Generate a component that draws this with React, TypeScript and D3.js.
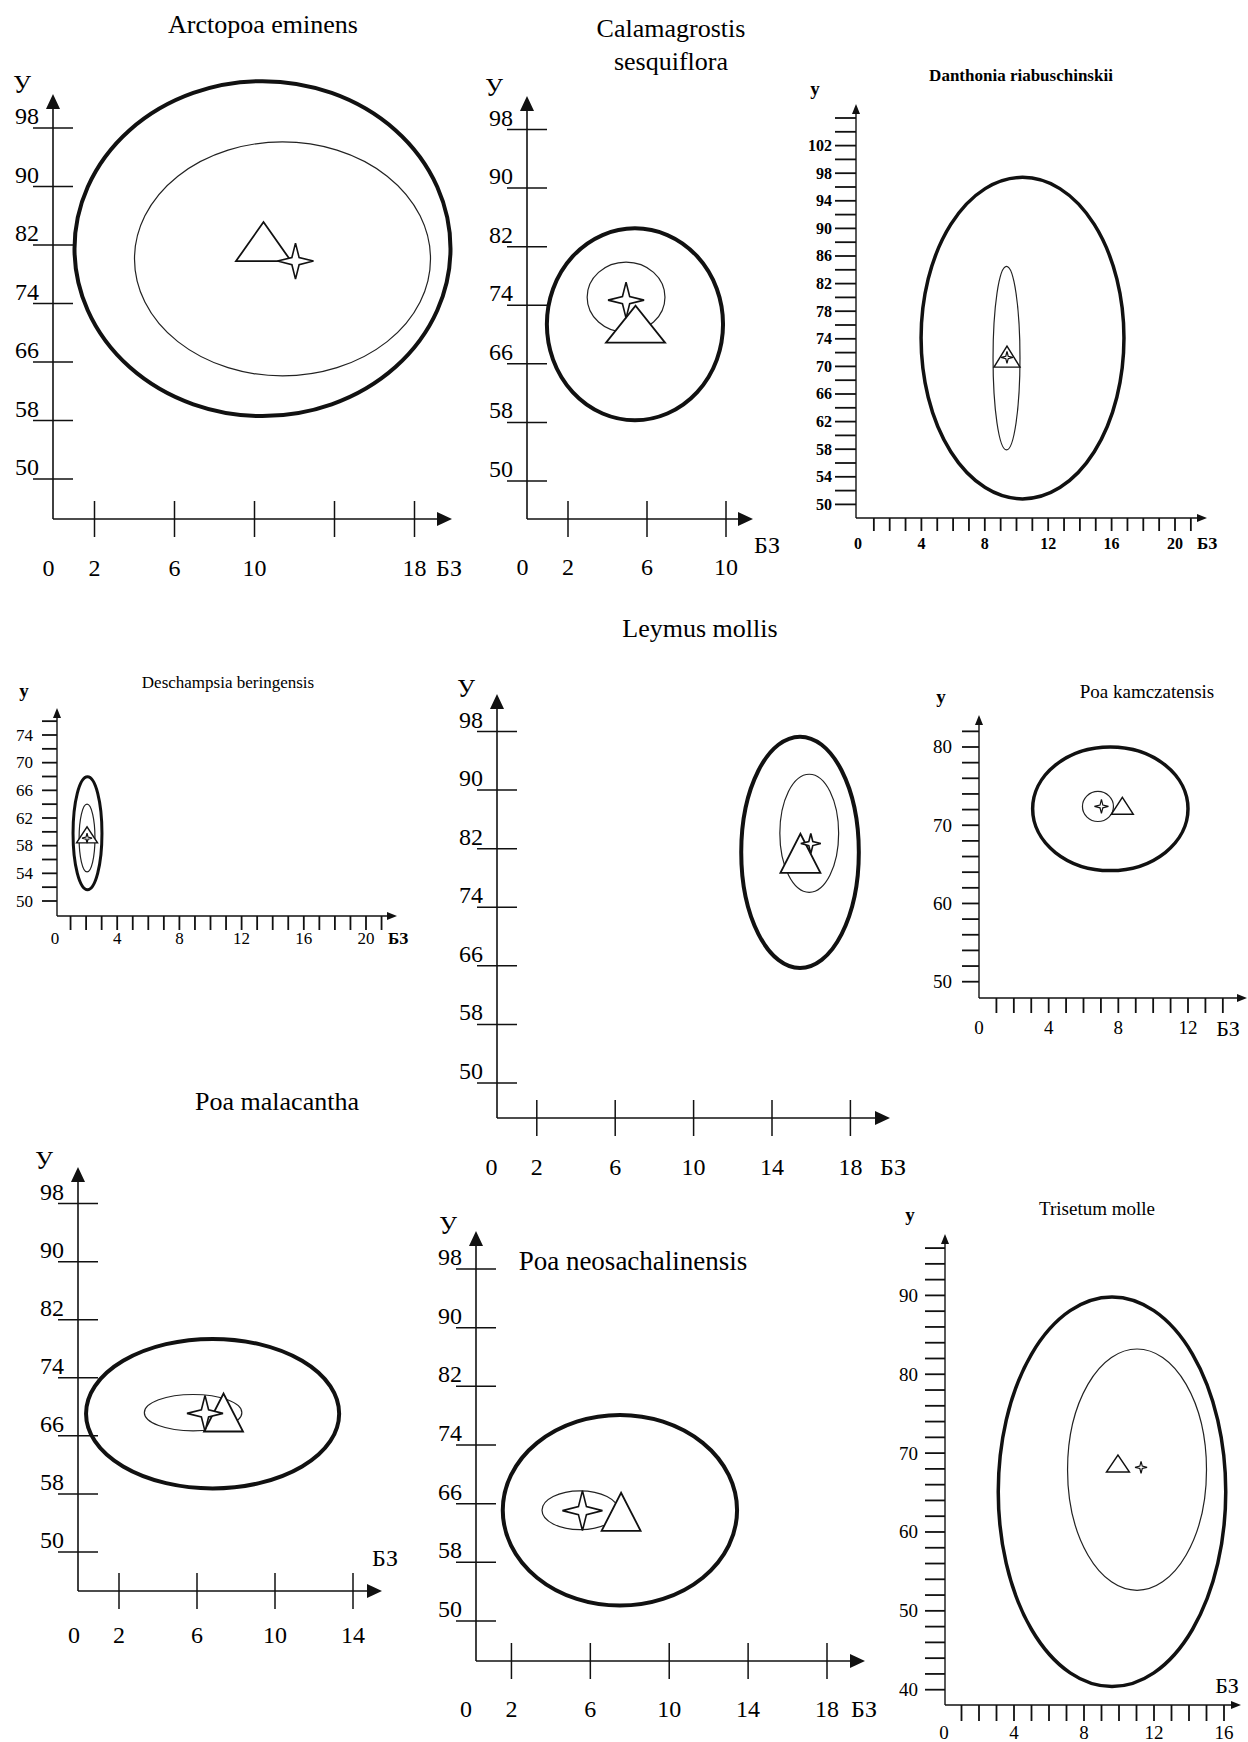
import React from "react";
import * as d3 from "d3";

// ---------- DATA ----------
const titleLines: string[][] = [
  ["Arctopoa eminens"],
  ["Calamagrostis", "sesquiflora"],
  ["Danthonia riabuschinskii"],
  ["Deschampsia beringensis"],
  ["Leymus mollis"],
  ["Poa kamczatensis"],
  ["Poa malacantha"],
  ["Poa neosachalinensis"],
  ["Trisetum molle"],
];
const yAxisNames = ["У", "У", "y", "y", "У", "y", "У", "У", "y"];
const xAxisName = "БЗ";

// [cx, cy, rx, ry] in data units
const outerEllipses: number[][] = [
  [10.4, 81.5, 9.4, 22.9],
  [5.39, 71.4, 4.46, 13.1],
  [10.38, 74.1, 6.4, 23.3],
  [2.09, 59.8, 0.93, 8.16],
  [15.43, 81.5, 3.0, 15.8],
  [7.54, 72.1, 4.46, 7.9],
  [6.8, 69.06, 6.49, 10.3],
  [7.5, 65.1, 5.94, 13.0],
  [9.6, 65.1, 6.5, 24.7],
];
const innerEllipses: number[][] = [
  [11.4, 80.1, 7.4, 16.0],
  [4.94, 75.1, 1.97, 4.8],
  [9.37, 71.2, 0.85, 13.3],
  [2.06, 59.1, 0.51, 4.9],
  [15.9, 84.1, 1.5, 8.06],
  [6.83, 72.4, 0.89, 1.92],
  [5.8, 69.2, 2.5, 2.5],
  [5.48, 65.1, 1.93, 2.64],
  [11.03, 67.9, 3.97, 15.3],
];
// triangle base-centre points
const trianglePoints: number[][] = [
  [10.45, 79.8],
  [5.42, 68.9],
  [9.4, 69.9],
  [2.06, 58.4],
  [15.45, 78.7],
  [8.23, 71.4],
  [7.36, 66.6],
  [7.56, 62.3],
  [9.94, 67.6],
];
const starPoints: number[][] = [
  [12.05, 79.8],
  [4.94, 74.7],
  [9.4, 71.3],
  [2.06, 59.1],
  [15.98, 82.7],
  [7.03, 72.4],
  [6.41, 69.1],
  [5.6, 65.05],
  [11.26, 68.2],
];

const bigY = [50, 58, 66, 74, 82, 90, 98];
const yTickMarks: number[][] = [
  bigY,
  bigY,
  d3.range(50, 107, 2),
  d3.range(50, 77, 2),
  bigY,
  d3.range(50, 83, 2),
  bigY,
  bigY,
  d3.range(40, 97, 2),
];
const yTickLabels: number[][] = [
  bigY,
  bigY,
  [50, 54, 58, 62, 66, 70, 74, 78, 82, 86, 90, 94, 98, 102],
  [50, 54, 58, 62, 66, 70, 74],
  bigY,
  [50, 60, 70, 80],
  bigY,
  bigY,
  [40, 50, 60, 70, 80, 90],
];
const xTickMarks: number[][] = [
  [2, 6, 10, 14, 18],
  [2, 6, 10],
  d3.range(1, 22),
  d3.range(1, 22),
  [2, 6, 10, 14, 18],
  d3.range(1, 15),
  [2, 6, 10, 14],
  [2, 6, 10, 14, 18],
  d3.range(1, 17),
];
const xTickLabels: number[][] = [
  [0, 2, 6, 10, 18],
  [0, 2, 6, 10],
  [0, 4, 8, 12, 16, 20],
  [0, 4, 8, 12, 16, 20],
  [0, 2, 6, 10, 14, 18],
  [0, 4, 8, 12],
  [0, 2, 6, 10, 14],
  [0, 2, 6, 10, 14, 18],
  [0, 4, 8, 12, 16],
];

// ---------- LAYOUT (pixels / styles) ----------
type L = {
  xDom: [number, number]; xPx: [number, number];
  yDom: [number, number]; yPx: [number, number];
  axisX: number; axisY: number; yTop: number; xRight: number;
  big: boolean;
  titleX: number; titleY: number[]; titleFs: number; titleBold?: boolean;
  yName: [number, number]; yNameFs: number;
  xName: [number, number]; xNameFs: number; xNameBold?: boolean;
  labelBase: number; tickFs: number; tickBold?: boolean;
  yTickLen?: number; xTickLen?: number; yLabelGap?: number;
  triW: number; triH: number; starR: number; outerW: number;
};

const layouts: L[] = [
  { xDom: [0, 18], xPx: [54.5, 414.5], yDom: [50, 98], yPx: [479, 128], axisX: 53, axisY: 519, yTop: 94, xRight: 452, big: true,
    titleX: 263, titleY: [33], titleFs: 26, yName: [22, 93], yNameFs: 25, xName: [449, 576], xNameFs: 24, labelBase: 576, tickFs: 24,
    triW: 55, triH: 39, starR: 18, outerW: 4 },
  { xDom: [0, 10], xPx: [528.5, 726], yDom: [50, 98], yPx: [481, 129.5], axisX: 527, axisY: 519, yTop: 96, xRight: 753, big: true,
    titleX: 671, titleY: [37, 70], titleFs: 26, yName: [494, 96], yNameFs: 25, xName: [767, 553], xNameFs: 24, labelBase: 575, tickFs: 24,
    triW: 59, triH: 37, starR: 18, outerW: 4 },
  { xDom: [0, 20], xPx: [858, 1175], yDom: [50, 102], yPx: [504.4, 145.6], axisX: 856, axisY: 518, yTop: 104, xRight: 1207, big: false,
    titleX: 1021, titleY: [81], titleFs: 17, titleBold: true, yName: [815, 95], yNameFs: 19, xName: [1207, 549], xNameFs: 17, xNameBold: true,
    labelBase: 549, tickFs: 16, tickBold: true, yTickLen: 21, xTickLen: 13, yLabelGap: 24,
    triW: 26, triH: 21, starR: 6, outerW: 3.5 },
  { xDom: [0, 20], xPx: [55, 366], yDom: [50, 74], yPx: [901, 735], axisX: 57, axisY: 916, yTop: 708, xRight: 397, big: false,
    titleX: 228, titleY: [688], titleFs: 17, yName: [24, 697], yNameFs: 19, xName: [398, 944], xNameFs: 17, xNameBold: true,
    labelBase: 944, tickFs: 17, yTickLen: 15, xTickLen: 14, yLabelGap: 24,
    triW: 21, triH: 16, starR: 5, outerW: 3 },
  { xDom: [0, 18], xPx: [497.6, 850.4], yDom: [50, 98], yPx: [1083, 731.5], axisX: 497, axisY: 1118, yTop: 694, xRight: 890, big: true,
    titleX: 700, titleY: [637], titleFs: 26, yName: [466, 697], yNameFs: 25, xName: [893, 1175], xNameFs: 24, labelBase: 1175, tickFs: 24,
    triW: 40, triH: 39, starR: 10, outerW: 4 },
  { xDom: [0, 12], xPx: [979, 1188], yDom: [50, 80], yPx: [981.7, 747], axisX: 979, axisY: 998, yTop: 715, xRight: 1247, big: false,
    titleX: 1147, titleY: [698], titleFs: 19, yName: [941, 703], yNameFs: 19, xName: [1228, 1036], xNameFs: 22,
    labelBase: 1034, tickFs: 19, yTickLen: 17, xTickLen: 15, yLabelGap: 27,
    triW: 22, triH: 17, starR: 7, outerW: 3.5 },
  { xDom: [0, 14], xPx: [80, 353], yDom: [50, 98], yPx: [1552, 1203.6], axisX: 78, axisY: 1591, yTop: 1167, xRight: 382, big: true,
    titleX: 277, titleY: [1110], titleFs: 26, yName: [44, 1169], yNameFs: 25, xName: [385, 1566], xNameFs: 24, labelBase: 1643, tickFs: 24,
    triW: 39, triH: 38, starR: 18, outerW: 4 },
  { xDom: [0, 18], xPx: [472, 827], yDom: [50, 98], yPx: [1621, 1269], axisX: 476, axisY: 1661, yTop: 1231, xRight: 865, big: true,
    titleX: 633, titleY: [1270], titleFs: 27, yName: [448, 1234], yNameFs: 25, xName: [864, 1717], xNameFs: 24, labelBase: 1717, tickFs: 24,
    triW: 39, triH: 38, starR: 20, outerW: 4 },
  { xDom: [0, 16], xPx: [944, 1224], yDom: [40, 90], yPx: [1689.7, 1295.4], axisX: 945, axisY: 1705, yTop: 1234, xRight: 1241, big: false,
    titleX: 1097, titleY: [1215], titleFs: 19, yName: [910, 1221], yNameFs: 19, xName: [1227, 1693], xNameFs: 22,
    labelBase: 1739, tickFs: 19, yTickLen: 20, xTickLen: 16, yLabelGap: 27,
    triW: 23, triH: 17, starR: 6, outerW: 3.5 },
];

const FONT = "'Liberation Serif', 'Times New Roman', serif";

function starPath(cx: number, cy: number, r: number) {
  const k = r * 0.2;
  const pts = [
    [0, -r], [k, -k], [r, 0], [k, k], [0, r], [-k, k], [-r, 0], [-k, -k],
  ];
  return d3.line()(pts.map(([a, b]) => [cx + a, cy + b]) as [number, number][]) + "Z";
}

function Panel({ i }: { i: number }) {
  const L = layouts[i];
  const x = d3.scaleLinear().domain(L.xDom).range(L.xPx);
  const y = d3.scaleLinear().domain(L.yDom).range(L.yPx);
  const al = L.big ? 15 : 10;
  const aw = L.big ? 7 : 4;
  const axW = L.big ? 1.6 : 1.4;
  const oe = outerEllipses[i];
  const ie = innerEllipses[i];
  const tp = trianglePoints[i];
  const sp = starPoints[i];
  const tx = x(tp[0]), ty = y(tp[1]);
  const els: React.ReactNode[] = [];

  // title
  titleLines[i].forEach((t, j) =>
    els.push(
      <text key={"t" + j} x={L.titleX} y={L.titleY[j]} textAnchor="middle" fontSize={L.titleFs}
        fontWeight={L.titleBold ? "bold" : "normal"} fontFamily={FONT}>{t}</text>
    )
  );
  // axis names
  els.push(
    <text key="yn" x={L.yName[0]} y={L.yName[1]} textAnchor="middle" fontSize={L.yNameFs}
      fontWeight={L.big ? "normal" : "bold"} fontFamily={FONT}>{yAxisNames[i]}</text>
  );
  els.push(
    <text key="xn" x={L.xName[0]} y={L.xName[1]} textAnchor="middle" fontSize={L.xNameFs}
      fontWeight={L.xNameBold ? "bold" : "normal"} fontFamily={FONT}>{xAxisName}</text>
  );
  // axes
  els.push(<line key="ya" x1={L.axisX} y1={L.axisY} x2={L.axisX} y2={L.yTop + al * 0.6} stroke="#111" strokeWidth={axW} />);
  els.push(<line key="xa" x1={L.axisX} y1={L.axisY} x2={L.xRight - al * 0.6} y2={L.axisY} stroke="#111" strokeWidth={axW} />);
  els.push(<path key="yarr" d={`M${L.axisX},${L.yTop}L${L.axisX + aw},${L.yTop + al}L${L.axisX - aw},${L.yTop + al}Z`} fill="#111" />);
  els.push(<path key="xarr" d={`M${L.xRight},${L.axisY}L${L.xRight - al},${L.axisY - aw}L${L.xRight - al},${L.axisY + aw}Z`} fill="#111" />);

  // ticks
  if (L.big) {
    yTickMarks[i].forEach((v) =>
      els.push(<line key={"yt" + v} x1={L.axisX - 20} x2={L.axisX + 20} y1={y(v)} y2={y(v)} stroke="#111" strokeWidth={1.5} />)
    );
    yTickLabels[i].forEach((v) =>
      els.push(<text key={"yl" + v} x={L.axisX - 14} y={y(v) - 4} textAnchor="end" fontSize={L.tickFs} fontFamily={FONT}>{v}</text>)
    );
    xTickMarks[i].forEach((v) =>
      els.push(<line key={"xt" + v} x1={x(v)} x2={x(v)} y1={L.axisY - 18} y2={L.axisY + 18} stroke="#111" strokeWidth={1.5} />)
    );
    xTickLabels[i].forEach((v) =>
      els.push(<text key={"xl" + v} x={v === 0 ? x(v) - 6 : x(v)} y={L.labelBase} textAnchor="middle" fontSize={L.tickFs} fontFamily={FONT}>{v}</text>)
    );
  } else {
    const ytl = L.yTickLen || 18;
    const xtl = L.xTickLen || 14;
    yTickMarks[i].forEach((v) =>
      els.push(<line key={"yt" + v} x1={L.axisX - ytl} x2={L.axisX} y1={y(v)} y2={y(v)} stroke="#111" strokeWidth={1.8} />)
    );
    yTickLabels[i].forEach((v) =>
      els.push(<text key={"yl" + v} x={L.axisX - (L.yLabelGap || 24)} y={y(v) + L.tickFs * 0.34} textAnchor="end" fontSize={L.tickFs}
        fontWeight={L.tickBold ? "bold" : "normal"} fontFamily={FONT}>{v}</text>)
    );
    xTickMarks[i].forEach((v) =>
      els.push(<line key={"xt" + v} x1={x(v)} x2={x(v)} y1={L.axisY} y2={L.axisY + xtl} stroke="#111" strokeWidth={1.8} />)
    );
    xTickLabels[i].forEach((v) =>
      els.push(<text key={"xl" + v} x={x(v)} y={L.labelBase} textAnchor="middle" fontSize={L.tickFs}
        fontWeight={L.tickBold ? "bold" : "normal"} fontFamily={FONT}>{v}</text>)
    );
  }

  // ellipses
  els.push(
    <ellipse key="oe" cx={x(oe[0])} cy={y(oe[1])} rx={x(oe[0] + oe[2]) - x(oe[0])} ry={y(oe[1]) - y(oe[1] + oe[3])}
      fill="none" stroke="#111" strokeWidth={L.outerW} />
  );
  els.push(
    <ellipse key="ie" cx={x(ie[0])} cy={y(ie[1])} rx={x(ie[0] + ie[2]) - x(ie[0])} ry={y(ie[1]) - y(ie[1] + ie[3])}
      fill="none" stroke="#222" strokeWidth={1.2} />
  );
  // triangle
  els.push(
    <path key="tri" d={`M${tx - L.triW / 2},${ty}L${tx + L.triW / 2},${ty}L${tx},${ty - L.triH}Z`}
      fill="#fff" stroke="#111" strokeWidth={L.big ? 1.8 : 1.4} strokeLinejoin="miter" />
  );
  // star
  els.push(
    <path key="star" d={starPath(x(sp[0]), y(sp[1]), L.starR)} fill="#fff" stroke="#111" strokeWidth={L.big ? 1.6 : 1.2} />
  );

  return <g>{els}</g>;
}

export default function App() {
  return (
    <div style={{ position: "absolute", left: 0, top: 0 }}>
      <svg width={1248} height={1742} viewBox="0 0 1248 1742" style={{ display: "block", background: "#fff" }}>
        <rect x={0} y={0} width={1248} height={1742} fill="#fff" />
        {layouts.map((_, i) => (
          <Panel key={i} i={i} />
        ))}
      </svg>
    </div>
  );
}
